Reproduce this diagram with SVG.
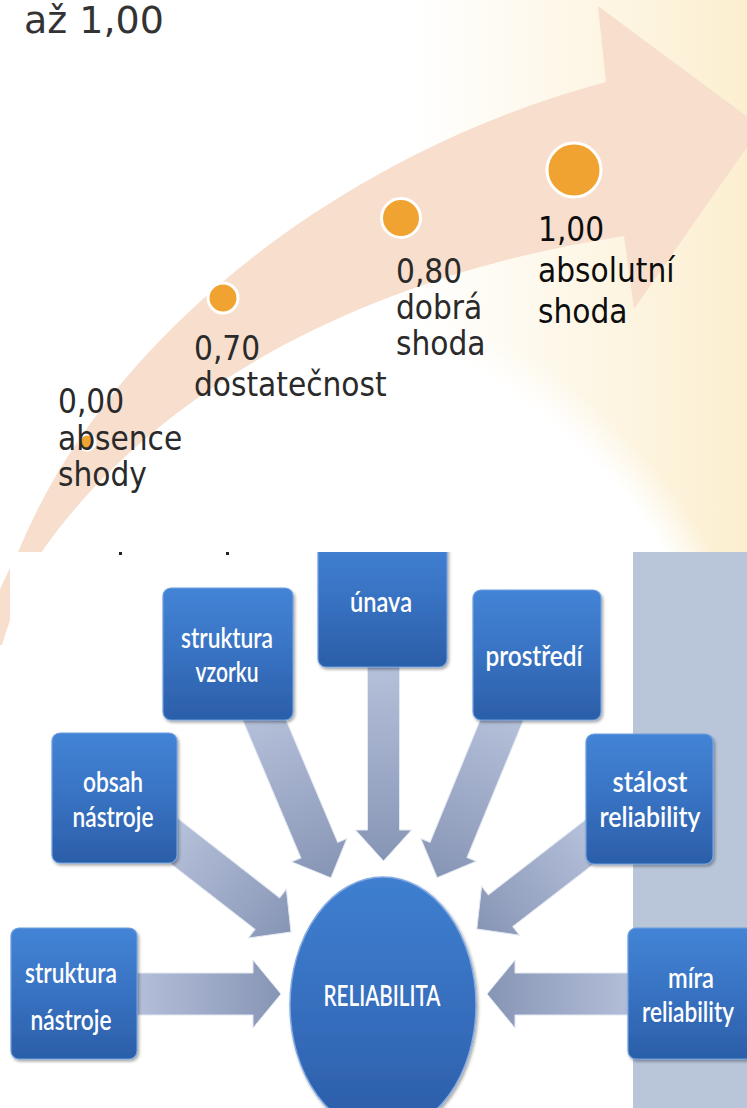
<svg xmlns="http://www.w3.org/2000/svg" width="747" height="1108" viewBox="0 0 747 1108">
  <defs>
    <linearGradient id="bgLin" x1="0" y1="0" x2="747" y2="0" gradientUnits="userSpaceOnUse">
      <stop offset="0" stop-color="#ffffff"/>
      <stop offset="0.55" stop-color="#ffffff"/>
      <stop offset="1" stop-color="#fcefd0"/>
    </linearGradient>
    <radialGradient id="whiteBlob" cx="250" cy="800" r="525" gradientUnits="userSpaceOnUse">
      <stop offset="0" stop-color="#ffffff" stop-opacity="1"/>
      <stop offset="0.92" stop-color="#ffffff" stop-opacity="1"/>
      <stop offset="1" stop-color="#ffffff" stop-opacity="0"/>
    </radialGradient>
    <linearGradient id="boxGrad" x1="0" y1="0" x2="0" y2="1">
      <stop offset="0" stop-color="#4384d6"/>
      <stop offset="0.5" stop-color="#3872c2"/>
      <stop offset="1" stop-color="#2b5ea8"/>
    </linearGradient>
    <linearGradient id="circGrad" x1="0" y1="0" x2="0" y2="1">
      <stop offset="0" stop-color="#3f7fd0"/>
      <stop offset="0.6" stop-color="#356cbb"/>
      <stop offset="1" stop-color="#2a5ca6"/>
    </linearGradient>
    <linearGradient id="arrGrad" x1="0" y1="0" x2="1" y2="0">
      <stop offset="0" stop-color="#b9c4dd"/>
      <stop offset="1" stop-color="#8795b5"/>
    </linearGradient>
    <filter id="shadow" x="-10%" y="-10%" width="125%" height="125%">
      <feDropShadow dx="1.5" dy="2" stdDeviation="1.5" flood-color="#000" flood-opacity="0.35"/>
    </filter>
    <clipPath id="pasteClip">
      <rect x="10" y="552" width="737" height="556"/>
    </clipPath>
    <style>
      .lbl { font-family: 'DejaVu Sans Condensed', 'DejaVu Sans', sans-serif; font-stretch: condensed; font-size: 33px; fill: #2a2a2a; }
      .lbl2 { font-family: 'DejaVu Sans Condensed', 'DejaVu Sans', sans-serif; font-stretch: condensed; font-size: 33px; fill: #0d0d0d; }
      .dot { fill: #f0a330; stroke: #ffffff; stroke-width: 3; }
      .box { fill: url(#boxGrad); stroke: #6e9fe0; stroke-width: 1.2; filter: url(#shadow); }
      .btxt { font-family: Lato, 'Open Sans', 'Liberation Sans', sans-serif; font-size: 28px; font-weight: 600; fill: #ffffff; text-anchor: middle; }
      .arr { fill: url(#arrGrad); stroke: #e3e8f2; stroke-width: 1; }
    </style>
  </defs>

  <!-- slide background -->
  <rect x="0" y="0" width="747" height="1108" fill="url(#bgLin)"/>
  <circle cx="250" cy="800" r="525" fill="url(#whiteBlob)"/>

  <!-- big curved arrow -->
  <path d="M 19,550 C 110,330 350,150 606,82 L 598,6 L 761,127 L 634,309 L 624,236 C 400,270 170,370 43,550 C 30,570 16,600 2,645 L -22,645 C -8,605 6,575 19,550 Z" fill="#f7decd"/>

  <text x="24" y="33" font-family="'DejaVu Sans', sans-serif" font-size="38" fill="#333333">až 1,00</text>

  <!-- scale points -->
  <g id="p000">
    <circle class="dot" cx="87" cy="442" r="8"/>
    <text class="lbl" x="58" y="413">0,00</text>
    <text class="lbl" x="58" y="450">absence</text>
    <text class="lbl" x="58" y="486">shody</text>
  </g>
  <g id="p070">
    <circle class="dot" cx="223" cy="298" r="15"/>
    <text class="lbl" x="194" y="360">0,70</text>
    <text class="lbl" x="194" y="396">dostatečnost</text>
  </g>
  <g id="p080">
    <circle class="dot" cx="401" cy="218" r="19.5"/>
    <text class="lbl" x="396" y="283">0,80</text>
    <text class="lbl" x="396" y="319">dobrá</text>
    <text class="lbl" x="396" y="355">shoda</text>
  </g>
  <g id="p100">
    <circle class="dot" cx="574" cy="170" r="27"/>
    <text class="lbl2" x="538" y="241">1,00</text>
    <text class="lbl2" x="538" y="282">absolutní</text>
    <text class="lbl2" x="538" y="323">shoda</text>
  </g>

  <!-- pasted picture -->
  <rect x="10" y="552" width="737" height="556" fill="#ffffff"/>
  <rect x="633" y="552" width="114" height="556" fill="#b9c6da"/>
  <rect x="119" y="552" width="3" height="3" fill="#222"/>
  <rect x="226" y="552" width="3" height="3" fill="#222"/>

  <g clip-path="url(#pasteClip)">
    <g id="connectors">
      <path class="arr" transform="translate(120,994) rotate(0)" d="M0,-21 L133,-21 L133,-34 L161,0 L133,34 L133,21 L0,21 Z"/>
      <path class="arr" transform="translate(650,994) rotate(180)" d="M0,-21 L135,-21 L135,-34 L163,0 L135,34 L135,21 L0,21 Z"/>
      <path class="arr" transform="translate(383.5,650) rotate(90)" d="M0,-16 L180,-16 L180,-28 L211,0 L180,28 L180,16 L0,16 Z"/>
      <path class="arr" transform="translate(256,700) rotate(67.15)" d="M0,-20 L163,-20 L163,-30 L193,0 L163,30 L163,20 L0,20 Z"/>
      <path class="arr" transform="translate(510,700) rotate(112.3)" d="M0,-20 L162,-20 L162,-30 L192,0 L162,30 L162,20 L0,20 Z"/>
      <path class="arr" transform="translate(160,830) rotate(37.9)" d="M0,-20 L136,-20 L136,-31 L166,0 L136,31 L136,20 L0,20 Z"/>
      <path class="arr" transform="translate(605,830) rotate(142.3)" d="M0,-20 L132,-20 L132,-31 L162,0 L132,31 L132,20 L0,20 Z"/>
    </g>

    <g id="unava">
      <rect class="box" x="318" y="530" width="129" height="137" rx="8"/>
      <text class="btxt" x="381" y="612" textLength="62" lengthAdjust="spacingAndGlyphs">únava</text>
    </g>
    <g id="struktura-vzorku">
      <rect class="box" x="163" y="588" width="130" height="132" rx="8"/>
      <text class="btxt" x="227" y="648" textLength="92" lengthAdjust="spacingAndGlyphs">struktura</text>
      <text class="btxt" x="227" y="682" textLength="63" lengthAdjust="spacingAndGlyphs">vzorku</text>
    </g>
    <g id="prostredi">
      <rect class="box" x="473" y="590" width="128" height="130" rx="8"/>
      <text class="btxt" x="534" y="666" textLength="97" lengthAdjust="spacingAndGlyphs">prostředí</text>
    </g>
    <g id="obsah-nastroje">
      <rect class="box" x="52" y="733" width="125" height="130" rx="8"/>
      <text class="btxt" x="113" y="792" textLength="60" lengthAdjust="spacingAndGlyphs">obsah</text>
      <text class="btxt" x="113" y="827" textLength="81" lengthAdjust="spacingAndGlyphs">nástroje</text>
    </g>
    <g id="stalost-reliability">
      <rect class="box" x="586" y="734" width="127" height="130" rx="8"/>
      <text class="btxt" x="650" y="792" textLength="75" lengthAdjust="spacingAndGlyphs">stálost</text>
      <text class="btxt" x="650" y="827" textLength="101" lengthAdjust="spacingAndGlyphs">reliability</text>
    </g>
    <g id="struktura-nastroje">
      <rect class="box" x="11" y="928" width="126" height="131" rx="8"/>
      <text class="btxt" x="71" y="983" textLength="92" lengthAdjust="spacingAndGlyphs">struktura</text>
      <text class="btxt" x="71" y="1030" textLength="81" lengthAdjust="spacingAndGlyphs">nástroje</text>
    </g>
    <g id="mira-reliability">
      <rect class="box" x="628" y="928" width="130" height="131" rx="8"/>
      <text class="btxt" x="691" y="988" textLength="46" lengthAdjust="spacingAndGlyphs">míra</text>
      <text class="btxt" x="688" y="1022" textLength="92" lengthAdjust="spacingAndGlyphs">reliability</text>
    </g>
    <g id="reliabilita">
      <ellipse cx="383" cy="1005" rx="93" ry="128" fill="url(#circGrad)" stroke="#86abe2" stroke-width="1.5" filter="url(#shadow)"/>
      <text class="btxt" x="382" y="1006" textLength="117" lengthAdjust="spacingAndGlyphs">RELIABILITA</text>
    </g>
  </g>
</svg>
